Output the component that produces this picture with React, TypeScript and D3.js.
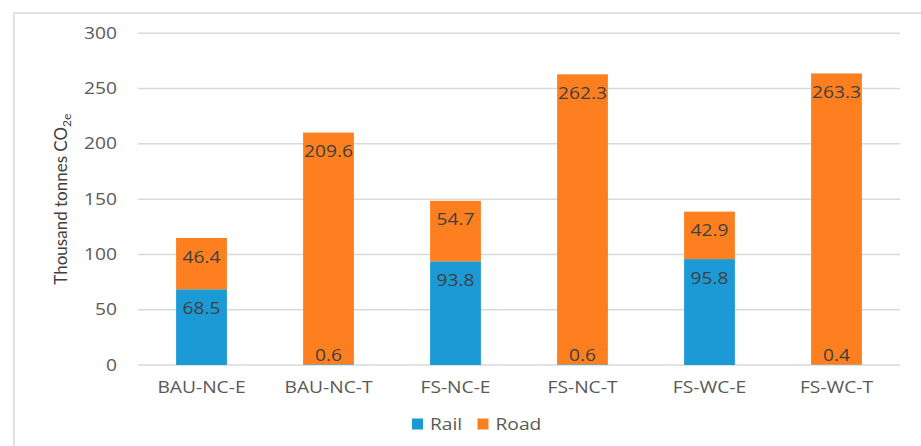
import React from "react";
import * as d3 from "d3";

const categories = ["BAU-NC-E", "BAU-NC-T", "FS-NC-E", "FS-NC-T", "FS-WC-E", "FS-WC-T"];
const railValues = [68.5, 0.6, 93.8, 0.6, 95.8, 0.4];
const roadValues = [46.4, 209.6, 54.7, 262.3, 42.9, 263.3];
const yTicks = [0, 50, 100, 150, 200, 250, 300];
const seriesNames = ["Rail", "Road"];
const seriesColors = ["#1b9ad6", "#fe7f20"];

const W = 921;
const H = 446;
const plot = { left: 138, right: 900, top: 33.3, bottom: 365 };
const font = "'Open Sans', 'DejaVu Sans', sans-serif";
const stretch = 1.24;

type LabelProps = {
  x: number;
  y: number;
  anchor?: "start" | "middle" | "end";
  size?: number;
  fill?: string;
  children: React.ReactNode;
};

// Wide, slightly stretched label text
function Label({ x, y, anchor = "middle", size = 15.5, fill = "#595959", children }: LabelProps) {
  return (
    <text
      transform={`translate(${x},${y}) scale(${stretch},1)`}
      dy="0.36em"
      textAnchor={anchor}
      fontFamily={font}
      fontSize={size}
      fill={fill}
    >
      {children}
    </text>
  );
}

export default function App() {
  const x = d3
    .scaleBand<string>()
    .domain(categories)
    .range([plot.left, plot.right])
    .paddingInner(0.6)
    .paddingOuter(0.3);
  const y = d3.scaleLinear().domain([0, 300]).range([plot.bottom, plot.top]);

  const rows = categories.map((c, i) => ({ cat: c, Rail: railValues[i], Road: roadValues[i] }));
  const stacked = d3.stack<any>().keys(seriesNames)(rows);

  return (
    <svg
      width={W}
      height={H}
      style={{ position: "fixed", left: 0, top: 0, background: "#fff" }}
    >
      <rect x={14} y={13} width={W} height={H} fill="#fff" stroke="#d9d9d9" strokeWidth={1.5} />
      {yTicks.map((t) => (
        <g key={t}>
          <line
            x1={plot.left}
            x2={plot.right}
            y1={y(t)}
            y2={y(t)}
            stroke="#d9d9d9"
            strokeWidth={1.5}
          />
          <Label x={117} y={y(t)} anchor="end">
            {t}
          </Label>
        </g>
      ))}
      <text
        transform={`translate(67,${(plot.top + plot.bottom) / 2}) rotate(-90)`}
        textAnchor="middle"
        fontFamily="Lato, 'Open Sans', sans-serif"
        fontSize={17}
        fill="#404040"
      >
        Thousand tonnes CO
        <tspan fontSize={12} dy={4}>2e</tspan>
      </text>
      {stacked.map((s, si) => (
        <g key={s.key}>
          {s.map((d, i) => (
            <rect
              key={i}
              x={x(categories[i])!}
              y={y(d[1])}
              width={x.bandwidth()}
              height={y(d[0]) - y(d[1])}
              fill={seriesColors[si]}
            />
          ))}
        </g>
      ))}
      {stacked.map((s, si) => (
        <g key={s.key + "-labels"}>
          {s.map((d, i) => {
            const value = si === 0 ? railValues[i] : roadValues[i];
            const ly = Math.min(y(d[1]) + 19, y(0) - 10);
            return (
              <Label
                key={i}
                x={x(categories[i])! + x.bandwidth() / 2}
                y={ly}
                fill="#404040"
              >
                {value.toFixed(1)}
              </Label>
            );
          })}
        </g>
      ))}
      {categories.map((c) => (
        <Label key={c} x={x(c)! + x.bandwidth() / 2} y={387}>
          {c}
        </Label>
      ))}
      {seriesNames.map((n, i) => {
        const lx = i === 0 ? 412 : 477.5;
        return (
          <g key={n}>
            <rect x={lx} y={418.5} width={11} height={11} fill={seriesColors[i]} />
            <Label x={lx + 18} y={424} anchor="start">
              {n}
            </Label>
          </g>
        );
      })}
    </svg>
  );
}
